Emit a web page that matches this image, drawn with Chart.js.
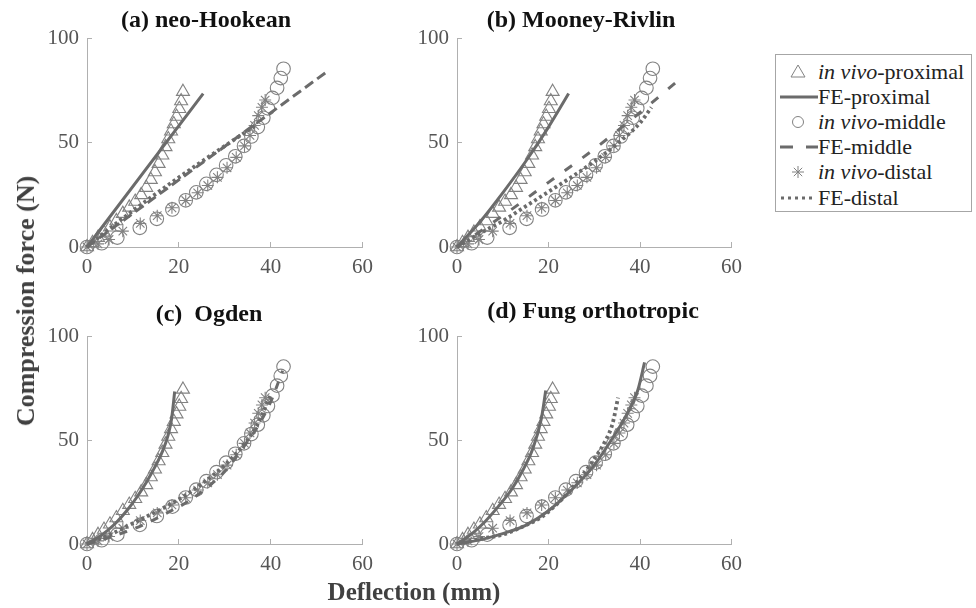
<!DOCTYPE html>
<html>
<head>
<meta charset="utf-8">
<script src="https://cdn.jsdelivr.net/npm/chart.js@4.4.1/dist/chart.umd.min.js"></script>
<style>
  body { margin: 0; background: #fff; }
  #wrap { position: relative; width: 976px; height: 608px; overflow: hidden; font-family: "Liberation Serif", "Times New Roman", serif; }
  canvas { position: absolute; }
  .lbl { position: absolute; transform: translate(-50%, -50%); white-space: nowrap; line-height: 1; }
  .title { font-weight: bold; font-size: 24px; color: #111; }
  .axis { font-weight: bold; font-size: 25px; color: #404040; }
  #ylab { transform: translate(-50%, -50%) rotate(-90deg); font-size: 26px; }
  #legend { position: absolute; left: 775px; top: 54px; width: 195px; height: 156px; border: 1px solid #a6a6a6; background: #fff; }
  #legend .row { position: absolute; left: 0; height: 24px; width: 195px; }
  #legend svg { position: absolute; left: 2px; top: 2px; }
  #legend span { position: absolute; left: 42px; top: 0; font-size: 22px; line-height: 24px; color: #222; white-space: nowrap; }
</style>
</head>
<body>
<div id="wrap">
  <canvas id="pA"></canvas>
  <canvas id="pB"></canvas>
  <canvas id="pC"></canvas>
  <canvas id="pD"></canvas>
  <div class="lbl title" style="left:206px;top:19px">(a) neo-Hookean</div>
  <div class="lbl title" style="left:581px;top:19px">(b) Mooney-Rivlin</div>
  <div class="lbl title" style="left:209px;top:313px">(c)&nbsp; Ogden</div>
  <div class="lbl title" style="left:593px;top:310px">(d) Fung orthotropic</div>
  <div class="lbl axis" id="ylab" style="left:26px;top:301px">Compression force (N)</div>
  <div class="lbl axis" style="left:414px;top:591px">Deflection (mm)</div>
  <div id="legend"></div>
</div>
<script>
// tick values
const xTicks = [0, 20, 40, 60];
const yTicks = [0, 50, 100];
const panelTitles = ["(a) neo-Hookean", "(b) Mooney-Rivlin", "(c) Ogden", "(d) Fung orthotropic"];

// in vivo measurements [deflection mm, force N]
const vivoProximal = [[0,0],[1.2,2],[2.4,4.5],[3.7,7],[5,9.5],[6.4,12.5],[7.8,16],[9.2,19],[10.5,21.8],[11.8,25],[12.9,28.5],[13.9,32.3],[14.8,36],[15.6,40],[16.4,44],[17.1,48],[17.7,51.8],[18.3,55.5],[18.9,59],[19.5,62.6],[20.1,66.3],[20.5,70],[20.9,74.5]];
const vivoMiddle = [[0,0],[3.2,1.8],[6.6,4.5],[11.5,9.2],[15.2,13.5],[18.6,18],[21.5,22.4],[23.8,26.2],[26,30.3],[28.2,34.6],[30.3,39.2],[32.3,43.5],[34.2,48.5],[35.8,53],[37.2,57.5],[38.4,62],[39.4,66.5],[40.4,71.5],[41.4,76.3],[42.2,81],[42.8,85.5]];
const vivoDistal = [[0,0],[2.4,1.5],[4.8,3.6],[7.8,7.6],[11.6,11.3],[15.3,15],[18.5,18.8],[21.5,22.3],[24.1,26],[26.3,29.5],[28.4,33.4],[30.5,38],[32.5,43],[34.3,48.5],[35.5,53.5],[36.5,58.3],[37.3,63],[38.1,67],[38.8,70.5]];

// FE predictions, (a) neo-Hookean
const feProxNeo = [[0,0],[25.3,73.6]];
const feMidNeo = [[0,0],[52.4,84.3]];
const feDistNeo = [[0,0],[5,9],[15,25.5],[25,41],[36.5,58]];
// (b) Mooney-Rivlin
const feProxMR = [[0,0],[5,12],[10,26],[15,41],[20,57.5],[24.4,73.6]];
const feMidMR = [[0,0],[10,15],[20,31],[30,47],[40,64.5],[48.2,79.6]];
const feDistMR = [[0,0],[5,6.5],[10,12.5],[15,19.5],[20,26.5],[25,33.5],[30,41],[35,49.5],[40,59.5],[42.5,67]];
// (c) Ogden
const feProxOg = [[0,0],[3,4],[6,9.5],[9,17],[11,23],[13,30],[15,38],[16.5,45],[17.6,52],[18.4,60],[19.1,73.5]];
const feMidOg = [[0,0],[6,4],[12,9],[17,14.5],[22,20.5],[26,27],[30,35],[34,46.5],[37,56],[40,68.5],[42.6,83.5]];
const feDistOg = [[0,0],[5,4.5],[10,10],[15,15.5],[20,21.5],[25,29],[30,38],[34,47.5],[37,57],[40,72]];
// (d) Fung orthotropic
const feProxFung = [[0,0],[3,4.5],[6,10.5],[9,18],[12,26.5],[14.5,36],[16.5,45.5],[18.4,60],[19.4,74]];
const feMidFung = [[0,0],[5,2],[10,5],[15,9],[20,16],[25,26],[30,38],[34,51],[37,62],[39.5,74],[41,87.5]];
const feDistFung = [[0,0],[5,2.5],[10,4.5],[15,9],[18.5,13],[21,17.5],[24,24],[27,32],[30,41],[32.5,50],[34,58],[35.2,70.5]];

const markGrey = "#828282";
const lineGrey = "#6b6b6b";
const axisGrey = "#b0b0b0";
const tickFont = { family: "'Liberation Serif', 'Times New Roman', serif", size: 21, lineHeight: 1 };

const pts = arr => arr.map(p => ({ x: p[0], y: p[1] }));

function vivoSet(arr, style, r) {
  return { data: pts(arr), showLine: false, pointStyle: style, pointRadius: r, pointHoverRadius: r,
    pointBorderColor: markGrey, pointBackgroundColor: "rgba(0,0,0,0)", pointBorderWidth: 1.1, clip: false, order: 2 };
}
function feSet(arr, dash, width) {
  return { data: pts(arr), showLine: true, pointRadius: 0, borderColor: lineGrey, borderWidth: width || 3,
    borderDash: dash, cubicInterpolationMode: "monotone", fill: false, clip: false, order: 1 };
}

const panels = [
  { id: "pA", area: [87, 35, 368, 247], fe: [feProxNeo, feMidNeo, feDistNeo], midDash: [10, 5] },
  { id: "pB", area: [457, 35, 737, 247], fe: [feProxMR, feMidMR, feDistMR], midDash: [9, 13] },
  { id: "pC", area: [87, 333, 368, 544], fe: [feProxOg, feMidOg, feDistOg], midDash: [8, 9] },
  { id: "pD", area: [457, 333, 737, 544], fe: [feProxFung, feMidFung, feDistFung], midDash: [] }
];

panels.forEach((p, i) => {
  const [L, T, R, B] = p.area;
  const cv = document.getElementById(p.id);
  cv.width = R - L + 90;
  cv.height = B - T + 60;
  cv.style.left = (L - 70) + "px";
  cv.style.top = (T - 20) + "px";

  new Chart(cv, {
    type: "scatter",
    data: {
      datasets: [
        vivoSet(vivoProximal, "triangle", 7.5),
        feSet(p.fe[0], []),
        vivoSet(vivoMiddle, "circle", 6.8),
        feSet(p.fe[1], p.midDash),
        vivoSet(vivoDistal, "star", 6),
        feSet(p.fe[2], [3, 3], 3.8)
      ]
    },
    options: {
      responsive: false,
      devicePixelRatio: 1,
      animation: false,
      layout: { padding: { top: 20, right: 20, left: 0, bottom: 0 } },
      plugins: { legend: { display: false }, tooltip: { enabled: false }, title: { display: false, text: panelTitles[i] } },
      scales: {
        x: {
          type: "linear", min: 0, max: 60,
          afterBuildTicks: s => { s.ticks = xTicks.map(v => ({ value: v })); },
          afterFit: s => { s.height = 40; },
          grid: { drawOnChartArea: false, tickLength: -5, color: axisGrey },
          border: { color: axisGrey },
          ticks: { font: tickFont, color: "#555", padding: 15, maxRotation: 0, autoSkip: false }
        },
        y: {
          type: "linear", min: 0, max: 100,
          afterBuildTicks: s => { s.ticks = yTicks.map(v => ({ value: v })); },
          afterFit: s => { s.width = 70; },
          grid: { drawOnChartArea: false, tickLength: -5, color: axisGrey },
          border: { color: axisGrey },
          ticks: { font: tickFont, color: "#555", padding: 13 }
        }
      }
    }
  });
});

// shared legend
const legendItems = [
  { label: "<i>in vivo</i>-proximal", sym: '<polygon points="20,3 27,15 13,15" fill="none" stroke="#828282" stroke-width="1"/>' },
  { label: "FE-proximal", sym: '<line x1="2" y1="10" x2="40" y2="10" stroke="#6b6b6b" stroke-width="3"/>' },
  { label: "<i>in vivo</i>-middle", sym: '<circle cx="20" cy="10" r="5.5" fill="none" stroke="#828282" stroke-width="1"/>' },
  { label: "FE-middle", sym: '<line x1="2" y1="10" x2="40" y2="10" stroke="#6b6b6b" stroke-width="3" stroke-dasharray="13 13"/>' },
  { label: "<i>in vivo</i>-distal", sym: '<g stroke="#828282" stroke-width="1"><line x1="20" y1="4" x2="20" y2="16"/><line x1="14" y1="10" x2="26" y2="10"/><line x1="15.8" y1="5.8" x2="24.2" y2="14.2"/><line x1="15.8" y1="14.2" x2="24.2" y2="5.8"/></g>' },
  { label: "FE-distal", sym: '<line x1="3" y1="10" x2="38" y2="10" stroke="#6b6b6b" stroke-width="3" stroke-dasharray="3 4"/>' }
];
const legend = document.getElementById("legend");
legendItems.forEach((it, i) => {
  const row = document.createElement("div");
  row.className = "row";
  row.style.top = (4.5 + 25.2 * i) + "px";
  row.innerHTML = '<svg width="42" height="20" viewBox="0 0 42 20">' + it.sym + '</svg><span>' + it.label + '</span>';
  legend.appendChild(row);
});
</script>
</body>
</html>
